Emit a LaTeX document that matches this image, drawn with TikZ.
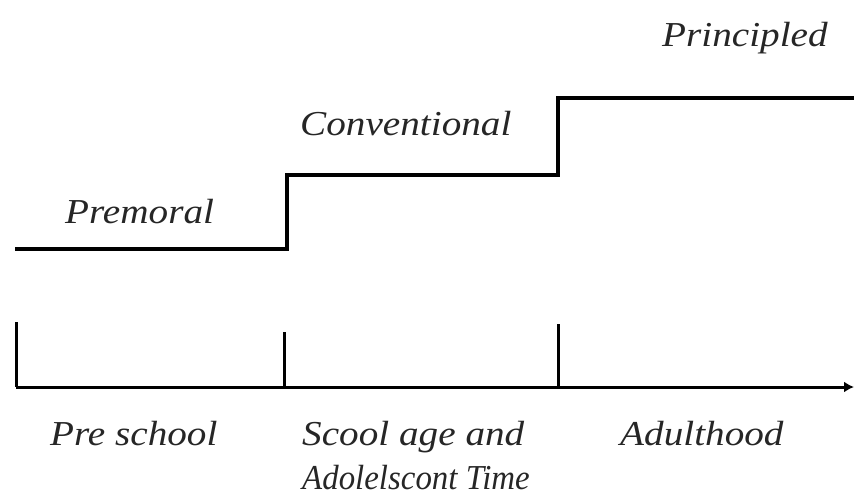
\documentclass[tikz,border=0pt]{standalone}
\usepackage{fontspec}
\setmainfont{Liberation Serif}
\usetikzlibrary{arrows.meta}
\newcommand{\widetext}[1]{\scalebox{1.12}[1]{#1}}
\newcommand{\narrowtext}[1]{\scalebox{0.94}[1]{#1}}
\begin{document}
\begin{tikzpicture}[x=1pt,y=-1pt,
  stage/.style={line width=3.4pt,line join=miter},
  axisline/.style={line width=3pt},
  lbl/.style={anchor=base west,inner sep=0pt,font=\fontsize{35}{38}\selectfont\itshape,text=black!85}]
\useasboundingbox (0,0) rectangle (854,493);
% staircase
\coordinate (s0) at (15,249);
\coordinate (s1) at (287,249);
\coordinate (s2) at (287,175);
\coordinate (s3) at (558,175);
\coordinate (s4) at (558,98);
\coordinate (s5) at (856,98);
\draw[stage] (s0) -- (s1) -- (s2) -- (s3) -- (s4) -- (s5);
% axis
\coordinate (a0) at (16,387);
\coordinate (a1) at (854,387);
\draw[axisline,-{Latex[length=10pt,width=11pt]}] (a0) -- (a1);
\coordinate (t0) at (16,322);
\coordinate (t1) at (284,332);
\coordinate (t1b) at (284,387);
\coordinate (t2) at (558,324);
\coordinate (t2b) at (558,387);
\draw[axisline] (t0) -- (a0);
\draw[axisline] (t1) -- (t1b);
\draw[axisline] (t2) -- (t2b);
% labels
\node[lbl] (premoral) at (65,223) {\widetext{Premoral}};
\node[lbl] (conv) at (300,135) {\widetext{Conventional}};
\node[lbl] (princ) at (662,46) {\widetext{Principled}};
\node[lbl] (pre) at (50,445) {\widetext{Pre school}};
\node[lbl] (school) at (302,445) {\widetext{Scool age and}};
\node[lbl] (adol) at (302,489) {\narrowtext{Adolelscont Time}};
\node[lbl] (adult) at (620,445) {\widetext{Adulthood}};
\end{tikzpicture}
\end{document}
